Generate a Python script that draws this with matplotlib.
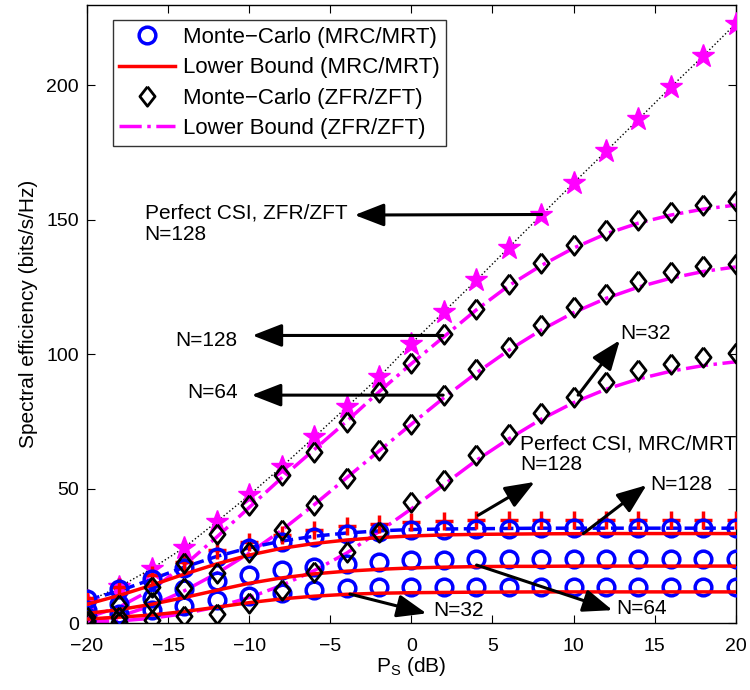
import matplotlib
matplotlib.use('Agg')
import matplotlib.pyplot as plt
import numpy as np
from matplotlib.lines import Line2D

plt.rcParams['font.family'] = ['Liberation Sans', 'DejaVu Sans']

# ---------------- data ----------------
ps_db = [-20, -18, -16, -14, -12, -10, -8, -6, -4, -2, 0, 2, 4, 6, 8, 10, 12, 14, 16, 18, 20]

# MRC/MRT Monte-Carlo (circles)
mrc128_mc = [9.0, 12.5, 16.5, 20.5, 24.5, 27.8, 30.0, 32.0, 33.2, 34.0, 34.5, 34.8, 35.0, 35.1, 35.2, 35.2, 35.3, 35.3, 35.3, 35.3, 35.3]
mrc64_mc = [5.0, 7.0, 9.5, 12.5, 15.5, 17.8, 19.6, 21.0, 22.0, 22.8, 23.3, 23.6, 23.8, 23.9, 24.0, 24.0, 24.0, 24.0, 24.0, 24.0, 24.0]
mrc32_mc = [2.3, 3.3, 4.8, 6.5, 8.5, 10.0, 11.2, 12.2, 12.9, 13.3, 13.5, 13.5, 13.5, 13.5, 13.5, 13.5, 13.5, 13.5, 13.5, 13.5, 13.5]
# MRC/MRT lower bound (red solid)
mrc128_lb = [7.0, 10.3, 14.1, 18.2, 22.0, 25.3, 27.8, 29.6, 30.9, 31.8, 32.4, 32.8, 33.0, 33.1, 33.2, 33.25, 33.3, 33.3, 33.3, 33.3, 33.3]
mrc64_lb = [3.6, 5.0, 7.0, 9.5, 12.2, 14.8, 16.8, 18.3, 19.3, 20.0, 20.5, 20.8, 21.0, 21.1, 21.1, 21.2, 21.2, 21.2, 21.2, 21.2, 21.2]
mrc32_lb = [1.5, 2.2, 3.0, 4.3, 5.9, 7.6, 9.0, 10.0, 10.7, 11.1, 11.3, 11.4, 11.5, 11.55, 11.6, 11.6, 11.6, 11.6, 11.6, 11.6, 11.6]
# Perfect CSI MRC/MRT, N=128
mrc_perf_mc = [9.5, 13.5, 18.0, 22.8, 27.0, 30.0, 32.7, 34.6, 36.0, 37.0, 37.6, 38.0, 38.2, 38.4, 38.5, 38.5, 38.5, 38.5, 38.5, 38.5, 38.5]
mrc_perf_lb = [8.5, 12.0, 16.3, 20.8, 24.8, 28.0, 30.5, 32.3, 33.5, 34.3, 34.8, 35.0, 35.1, 35.2, 35.3, 35.3, 35.3, 35.3, 35.3, 35.3, 35.3]

# ZFR/ZFT Monte-Carlo (diamonds)
zf128_mc = [2.3, 6.7, 13.5, 22.5, 33.3, 43.9, 55.0, 63.7, 74.8, 86.0, 96.6, 107.4, 116.7, 126.3, 133.8, 140.5, 146.1, 149.9, 153.0, 155.6, 157.2]
zf64_mc = [0.8, 2.3, 8.0, 12.9, 18.5, 26.5, 34.8, 43.9, 53.8, 64.3, 74.2, 84.8, 94.4, 102.7, 110.8, 117.6, 122.6, 127.1, 130.6, 132.8, 133.7]
zf32_mc = [0.3, 0.5, 1.2, 2.5, 3.5, 7.6, 12.3, 19.1, 26.5, 33.9, 45.0, 53.2, 62.5, 70.5, 78.0, 84.1, 89.7, 94.1, 96.5, 98.8, 100.3]
# ZFR/ZFT lower bound (magenta dash-dot)
zf128_lb = [2.0, 6.0, 12.5, 21.5, 32.0, 43.0, 54.0, 64.5, 75.0, 86.0, 96.5, 106.5, 116.5, 125.5, 133.0, 139.5, 144.8, 148.8, 151.8, 154.0, 155.5]
zf64_lb = [0.8, 2.5, 6.5, 12.0, 18.5, 26.0, 34.5, 44.0, 54.0, 64.0, 74.0, 83.8, 93.0, 101.5, 109.0, 115.5, 120.8, 125.0, 128.3, 130.8, 132.5]
zf32_lb = [0.3, 0.8, 1.8, 3.5, 6.0, 9.5, 14.0, 19.5, 26.0, 34.0, 42.5, 51.5, 60.5, 68.5, 75.8, 82.0, 87.0, 90.8, 93.7, 95.8, 97.2]
# Perfect CSI ZFR/ZFT, N=128
zf_perf = [7.9, 13.5, 20.3, 28.1, 37.7, 47.6, 58.1, 69.1, 80.3, 91.5, 104.0, 115.8, 127.5, 139.7, 151.7, 163.7, 175.5, 187.4, 199.4, 211.0, 223.0]

legend_labels = ['Monte\u2212Carlo (MRC/MRT)', 'Lower Bound (MRC/MRT)',
                 'Monte\u2212Carlo (ZFR/ZFT)', 'Lower Bound (ZFR/ZFT)']
xticks = [-20, -15, -10, -5, 0, 5, 10, 15, 20]
yticks = [0, 50, 100, 150, 200]

# annotations: (text, text_xy, arrow_tail, arrow_tip, ha)
annotations = [
    ('Perfect CSI, ZFR/ZFT\nN=128', (-16.45, 148.5), (8.04, 152.0), (-3.5, 151.8), 'left'),
    ('N=128', (-10.7, 105.2), (1.94, 107.0), (-9.8, 107.0), 'right'),
    ('N=64', (-10.7, 85.6), (1.96, 84.8), (-9.85, 84.8), 'right'),
    ('N=32', (12.9, 107.7), (10.28, 84.8), (12.85, 105.2), 'left'),
    ('Perfect CSI, MRC/MRT\nN=128', (6.69, 62.8), (4.12, 40.1), (7.6, 52.5), 'left'),
    ('N=128', (14.7, 51.6), (10.6, 33.3), (14.5, 51.3), 'left'),
    ('N=64', (12.65, 5.5), (4.02, 21.6), (12.4, 4.8), 'left'),
    ('N=32', (1.33, 4.8), (-3.79, 10.8), (0.93, 3.6), 'left'),
]

# ---------------- figure ----------------
fig = plt.figure(figsize=(7.5, 6.9), dpi=100)
ax = fig.add_axes([0.116, 0.097, 0.865, 0.896])

diamond = [(0, 1), (0.78, 0), (0, -1), (-0.78, 0), (0, 1)]
LW = 2.5

# perfect CSI ZF
ax.plot(ps_db, zf_perf, ':', color='k', lw=1.0, zorder=2)
ax.plot(ps_db, zf_perf, '*', color='#ff00ff', ms=17, mec='#ff00ff', zorder=3)

# ZF curves
for lb, mc in [(zf128_lb, zf128_mc), (zf64_lb, zf64_mc), (zf32_lb, zf32_mc)]:
    ax.plot(ps_db, lb, '-.', color='#ff00ff', lw=LW, zorder=2)
    ax.plot(ps_db, mc, linestyle='none', marker=diamond, ms=14, mfc='none', mec='k', mew=2, zorder=4)

# perfect CSI MRC
ax.plot(ps_db, mrc_perf_lb, '--', color='#0000ff', lw=LW, zorder=2)
ax.plot(ps_db, mrc_perf_mc, '+', color='#ff0000', ms=13, mew=2.5, zorder=3)

# MRC curves
for lb, mc in [(mrc128_lb, mrc128_mc), (mrc64_lb, mrc64_mc), (mrc32_lb, mrc32_mc)]:
    ax.plot(ps_db, mc, 'o', ms=12, mfc='none', mec='#0000ff', mew=2.5, zorder=3)
    ax.plot(ps_db, lb, '-', color='#ff0000', lw=LW, zorder=3.5)

ax.set_xlim(-20, 20)
ax.set_ylim(0, 230)
ax.set_xticks(xticks)
ax.set_yticks(yticks)
ax.tick_params(direction='in', top=True, right=True, labelsize=14, length=6, width=0.8, pad=6)
ax.tick_params(axis='x', pad=11)
for s in ax.spines.values():
    s.set_linewidth(1.0)

ax.set_xlabel('P$_\\mathregular{S}$ (dB)', fontsize=15, labelpad=0)
ax.set_ylabel('Spectral efficiency (bits/s/Hz)', fontsize=15, labelpad=6)

for txt, txy, tail, tip, ha in annotations:
    ax.annotate('', xy=tip, xytext=tail,
                arrowprops=dict(arrowstyle='-|>,head_length=0.9,head_width=0.35',
                                color='k', lw=2.2, mutation_scale=20,
                                shrinkA=0, shrinkB=0), zorder=6)
    ax.text(txy[0], txy[1], txt, ha=ha, va='center', fontsize=15, linespacing=1.15, zorder=6)

# legend
handles = [
    Line2D([], [], ls='none', marker='o', ms=12, mfc='none', mec='#0000ff', mew=2.5),
    Line2D([], [], ls='-', color='#ff0000', lw=LW),
    Line2D([], [], ls='none', marker=diamond, ms=14, mfc='none', mec='k', mew=2),
    Line2D([], [], ls='-.', color='#ff00ff', lw=LW),
]
leg = ax.legend(handles, legend_labels, loc='upper left', bbox_to_anchor=(0.0395, 0.975),
                fontsize=16, frameon=True, fancybox=False, edgecolor='k',
                handlelength=2.5, handletextpad=0.35, borderpad=0.3, labelspacing=0.42,
                borderaxespad=0)
leg.get_frame().set_linewidth(1.0)

fig.savefig('out.png', dpi=100)
